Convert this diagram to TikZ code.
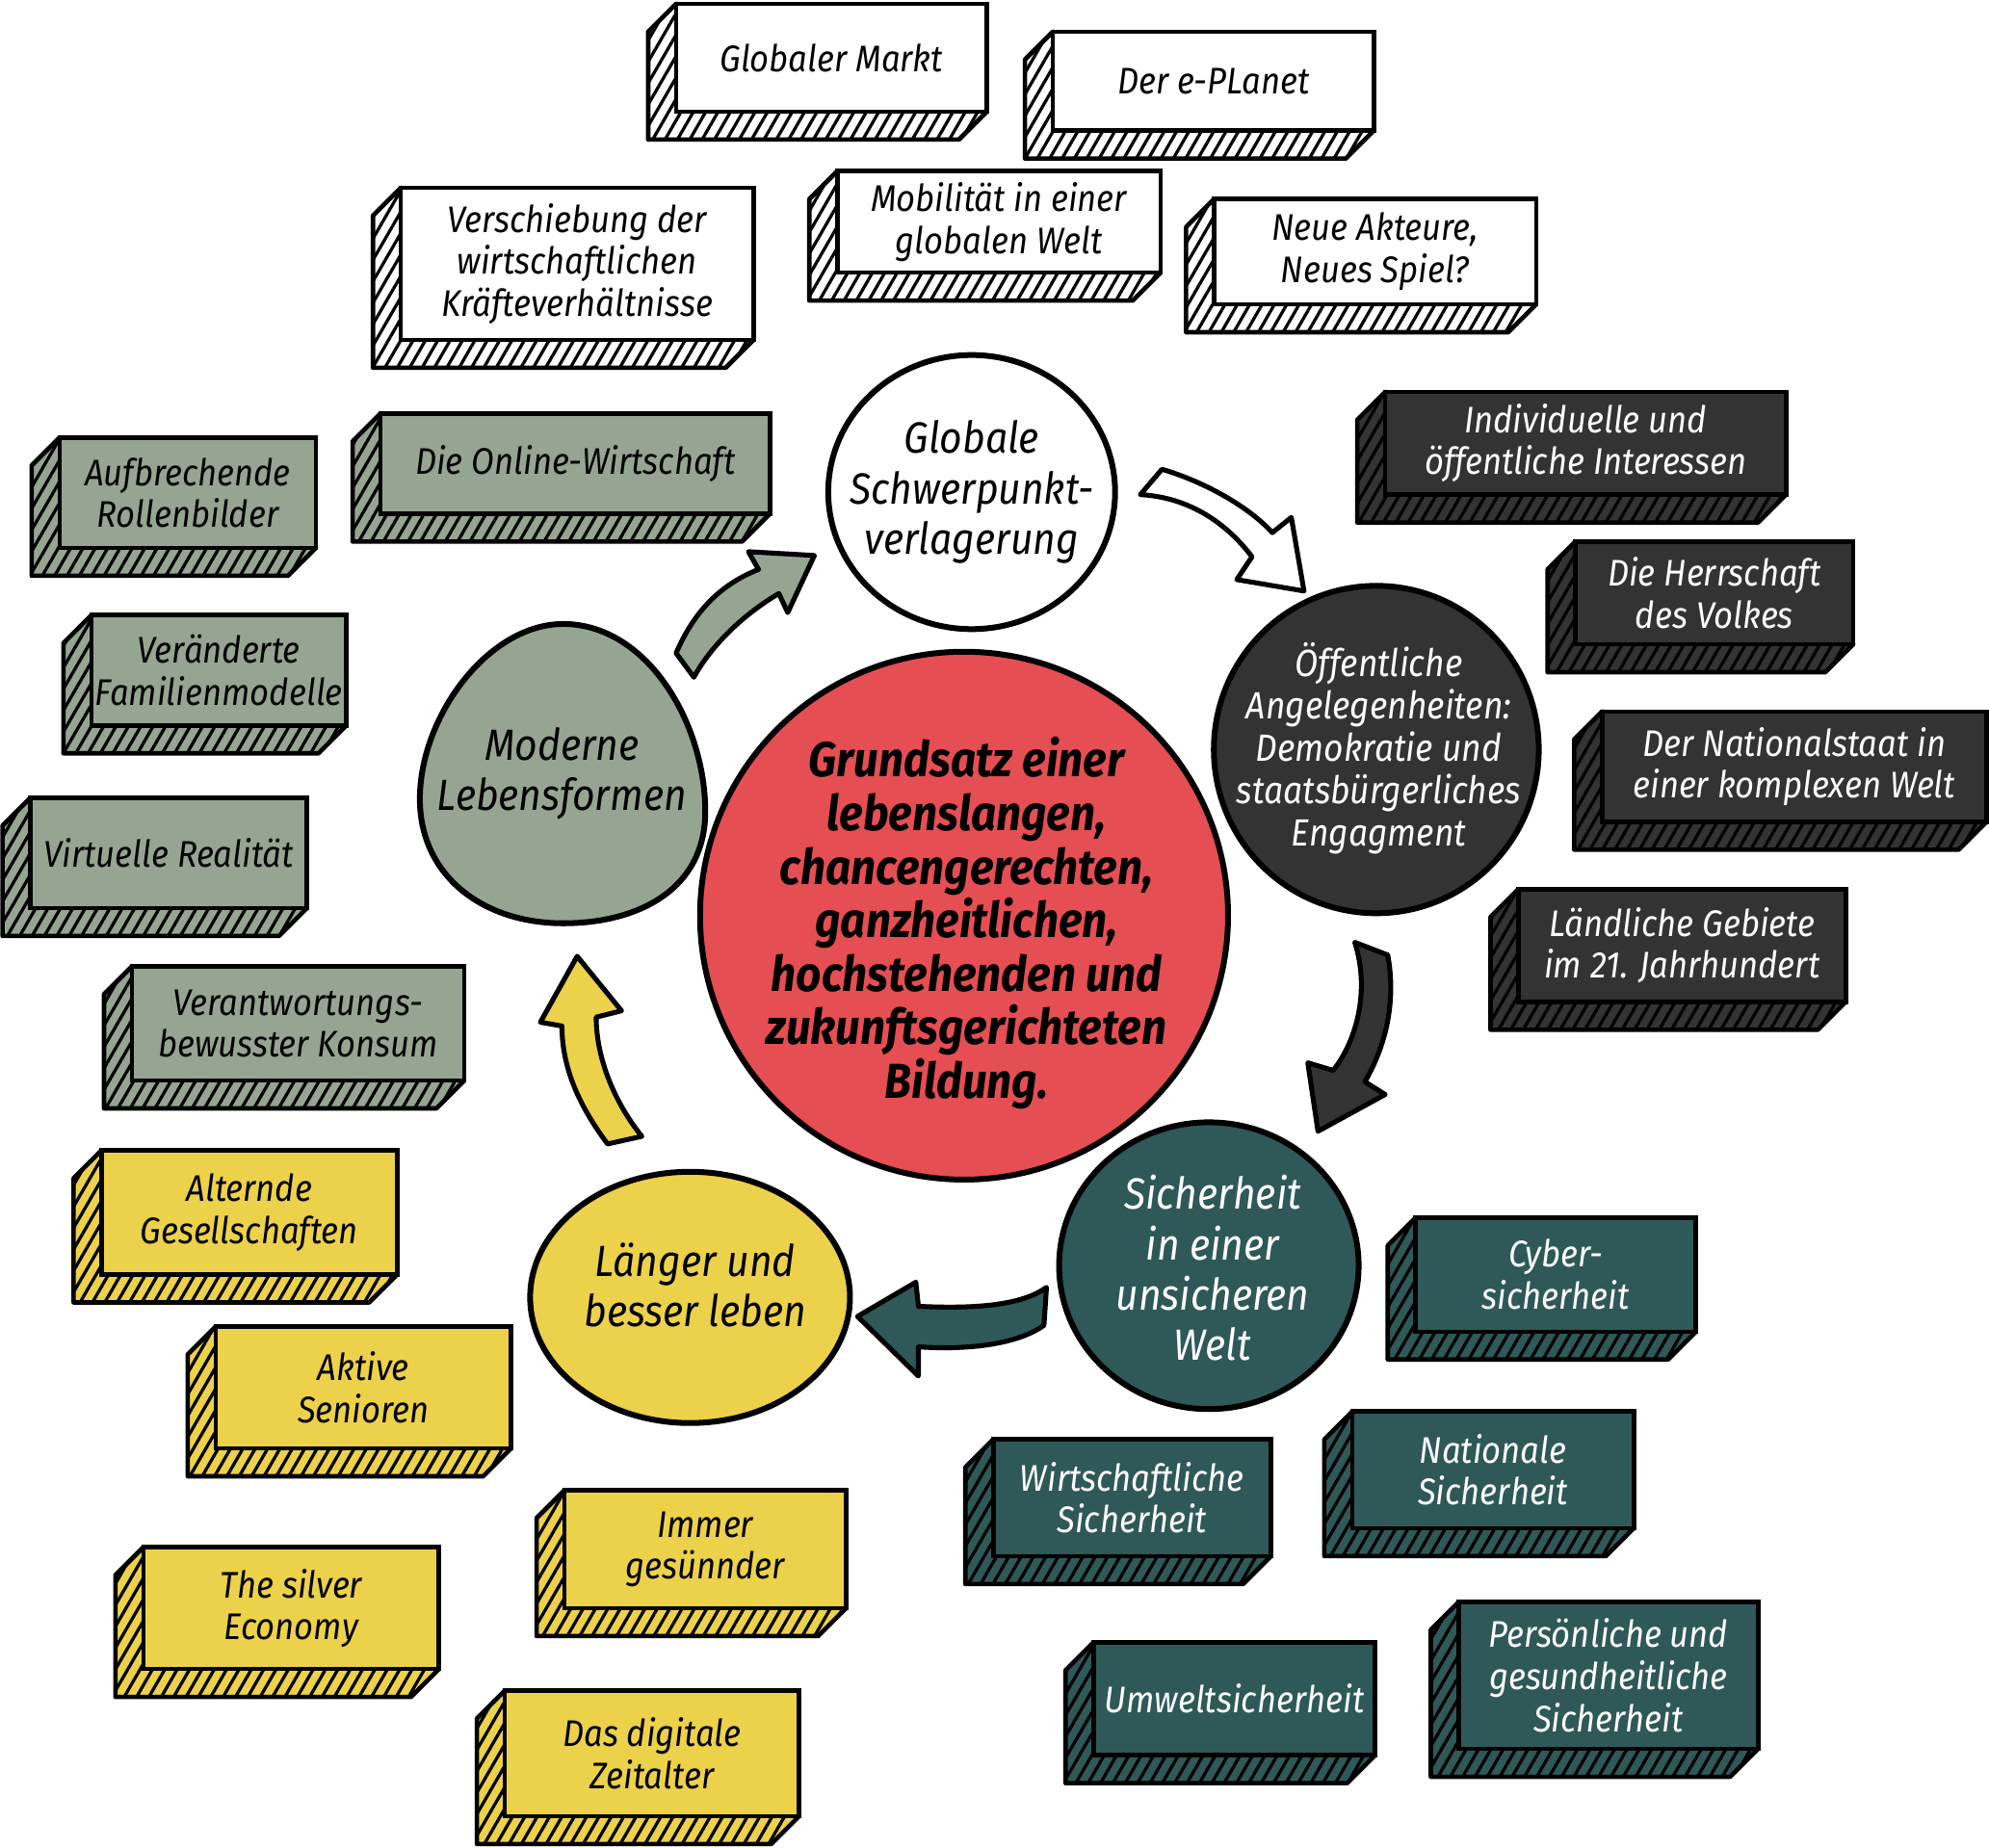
\documentclass[tikz,border=0pt]{standalone}
\usepackage{fontspec}
\setmainfont{Fira Sans}[FakeStretch=0.9]
\usetikzlibrary{patterns.meta}

\definecolor{sage}{HTML}{95A591}
\definecolor{sun}{HTML}{ECD14B}
\definecolor{coal}{HTML}{333333}
\definecolor{pine}{HTML}{2E5958}
\definecolor{brick}{HTML}{E54E52}

\tikzset{
  boxtext/.style={font=\fontsize{8.3}{9.4}\selectfont\itshape, align=center},
  blobline/.style={draw, line width=1.3pt},
  blobtext/.style={align=center, inner sep=0pt, font=\fontsize{9.8}{11.3}\selectfont\itshape},
  blockarrow/.style={draw, line width=1.1pt, line join=round},
}

% box with a hatched side and bottom: name, x1, y1, x2, y2, fill, text colour, text
\newcommand{\topicbox}[8]{%
  \draw[line width=1pt, line join=round, preaction={fill=#6},
    pattern={Lines[angle=60,distance=2.4pt,line width=0.7pt]}, pattern color=black]
    (#2,#3) -- (#2-22,#3+22) -- (#2-22,#5+22) -- (#4-22,#5+22) -- (#4,#5) -- cycle;
  \node[boxtext, draw, line width=1pt, fill=#6, text=#7, inner sep=0pt,
    minimum width={(#4-#2)*0.01cm}, minimum height={(#5-#3)*0.01cm}]
    (#1) at ({(#2+#4)/2},{(#3+#5)/2}) {#8};
}

\begin{document}
\begin{tikzpicture}[x=0.01cm, y=-0.01cm]
  \useasboundingbox (0,0) rectangle (1568,1457);

  % Global shift boxes
  \topicbox{markt}{533}{3}{778}{88}{white}{black}{Globaler Markt}
  \topicbox{eplanet}{830}{25}{1083}{103}{white}{black}{Der e-PLanet}
  \topicbox{verschiebung}{316}{148}{594}{268}{white}{black}{Verschiebung der\\wirtschaftlichen\\Kräfteverhältnisse}
  \topicbox{mobil}{660}{135}{915}{215}{white}{black}{Mobilität in einer\\globalen Welt}
  \topicbox{akteure}{957}{157}{1211}{240}{white}{black}{Neue Akteure,\\Neues Spiel?}

  % Modern ways of life boxes
  \topicbox{online}{300}{326}{607}{405}{sage}{black}{Die Online-Wirtschaft}
  \topicbox{rollen}{47}{345}{249}{432}{sage}{black}{Aufbrechende\\Rollenbilder}
  \topicbox{familie}{72}{485}{273}{572}{sage}{black}{Veränderte\\Familienmodelle}
  \topicbox{virtuell}{24}{629}{242}{716}{sage}{black}{Virtuelle Realität}
  \topicbox{konsum}{104}{762}{366}{852}{sage}{black}{Verantwortungs-\\bewusster Konsum}

  % Living longer boxes
  \topicbox{altern}{80}{907}{313}{1005}{sun}{black}{Alternde\\Gesellschaften}
  \topicbox{senioren}{170}{1046}{403}{1142}{sun}{black}{Aktive\\Senioren}
  \topicbox{silver}{113}{1220}{346}{1316}{sun}{black}{The silver\\Economy}
  \topicbox{gesund}{445}{1175}{667}{1268}{sun}{black}{Immer\\gesünnder}
  \topicbox{digital}{398}{1333}{630}{1432}{sun}{black}{Das digitale\\Zeitalter}

  % Public affairs boxes
  \topicbox{interessen}{1092}{309}{1408}{390}{coal}{white}{Individuelle und\\öffentliche Interessen}
  \topicbox{herrschaft}{1242}{427}{1461}{508}{coal}{white}{Die Herrschaft\\des Volkes}
  \topicbox{nationalstaat}{1263}{561}{1566}{648}{coal}{white}{Der Nationalstaat in\\einer komplexen Welt}
  \topicbox{laendlich}{1197}{701}{1455}{790}{coal}{white}{Ländliche Gebiete\\im 21. Jahrhundert}

  % Security boxes
  \topicbox{cyber}{1116}{960}{1337}{1050}{pine}{white}{Cyber-\\sicherheit}
  \topicbox{natsich}{1066}{1113}{1288}{1205}{pine}{white}{Nationale\\Sicherheit}
  \topicbox{wirtsich}{783}{1135}{1002}{1227}{pine}{white}{Wirtschaftliche\\Sicherheit}
  \topicbox{umwelt}{862}{1295}{1084}{1384}{pine}{white}{Umweltsicherheit}
  \topicbox{persoen}{1150}{1263}{1386}{1379}{pine}{white}{Persönliche und\\gesundheitliche\\Sicherheit}

  % Block arrows between the themes
  \filldraw[blockarrow, fill=sage] (533,515) .. controls (548,480) and (570,460) .. (598,449)
    -- (590,435) -- (642,438) -- (621,483) -- (614,468)
    .. controls (585,485) and (560,510) .. (547,534) -- cycle;
  \filldraw[blockarrow, fill=white] (916,370) .. controls (950,380) and (985,400) .. (1003,420)
    -- (1018,408) -- (1028,466) -- (975,457) -- (987,439)
    .. controls (965,410) and (935,392) .. (899,390) -- cycle;
  \filldraw[blockarrow, fill=coal] (1068,743) .. controls (1080,780) and (1070,820) .. (1051,844)
    -- (1031,838) -- (1039,892) -- (1092,863) -- (1076,853)
    .. controls (1095,820) and (1100,785) .. (1094,753) -- cycle;
  \filldraw[blockarrow, fill=pine] (825,1015) .. controls (805,1030) and (765,1032) .. (724,1030)
    -- (722,1011) -- (676,1038) -- (724,1085) -- (724,1062)
    .. controls (770,1065) and (805,1058) .. (823,1045) -- cycle;
  \filldraw[blockarrow, fill=sun] (479,902) .. controls (455,870) and (443,840) .. (443,809)
    -- (426,806) -- (455,754) -- (490,797) -- (470,802)
    .. controls (470,835) and (485,870) .. (506,896) -- cycle;

  % Theme circles
  \draw[blobline, fill=white] (766,388) ellipse [x radius=1.13cm, y radius=1.08cm];
  \node[blobtext] (globale) at (766,388) {Globale\\Schwerpunkt-\\verlagerung};

  \draw[blobline, fill=coal] (1085,591) ellipse [x radius=1.28cm, y radius=1.29cm];
  \node[blobtext, text=white, font=\fontsize{8.5}{9.5}\selectfont\itshape] (oeffentlich) at (1087,590)
    {Öffentliche\\Angelegenheiten:\\Demokratie und\\staatsbürgerliches\\Engagment};

  \draw[blobline, fill=pine] (953,998) ellipse [x radius=1.18cm, y radius=1.13cm];
  \node[blobtext, text=white] (sicherheit) at (956,1000) {Sicherheit\\in einer\\unsicheren\\Welt};

  \draw[blobline, fill=sun] (544,1023) ellipse [x radius=1.26cm, y radius=0.99cm];
  \node[blobtext] (laenger) at (548,1013) {Länger und\\besser leben};

  \filldraw[blobline, fill=sage] (444,492) .. controls (510,492) and (556,570) .. (556,640)
    .. controls (556,700) and (505,728) .. (444,728) .. controls (380,728) and (331,690) .. (331,630)
    .. controls (331,565) and (385,492) .. (444,492) -- cycle;
  \node[blobtext] (moderne) at (443,610) {Moderne\\Lebensformen};

  % Central circle
  \draw[blobline, fill=brick] (760,722) circle [radius=2.08cm];
  \node[blobtext, font=\fontsize{11}{12}\selectfont\bfseries\itshape] (bildung) at (762,728)
    {Grundsatz einer\\lebenslangen,\\chancengerechten,\\ganzheitlichen,\\hochstehenden und\\zukunftsgerichteten\\Bildung.};
\end{tikzpicture}
\end{document}
